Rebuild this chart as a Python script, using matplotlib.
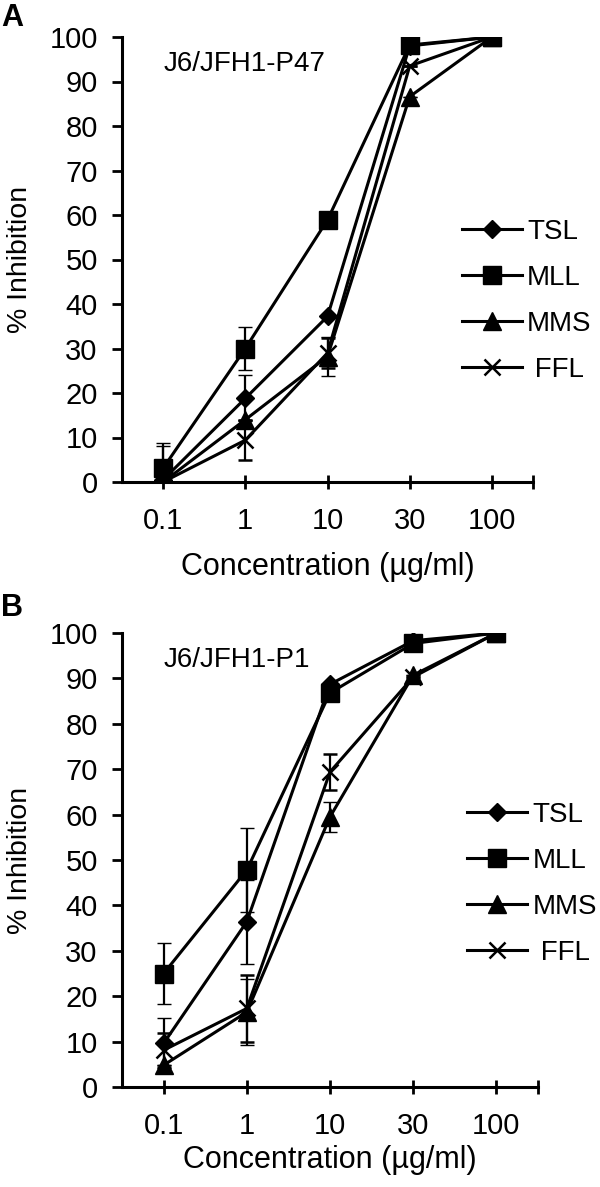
import matplotlib
matplotlib.use("Agg")
import matplotlib.pyplot as plt
from matplotlib.lines import Line2D
import numpy as np

plt.rcParams['font.family'] = ['Liberation Sans', 'DejaVu Sans']

conc_labels = ['0.1', '1', '10', '30', '100']
series_names = ['TSL', 'MLL', 'MMS', 'FFL']

# panel A: J6/JFH1-P47
a_tsl = [0.5, 18.8, 37.2, 98.0, 100]
a_mll = [3.1, 30.0, 58.9, 98.2, 100]
a_mms = [0.0, 14.0, 28.2, 86.6, 100]
a_ffl = [0.0, 9.4, 29.0, 93.5, 100]
a_tsl_err = [7.5, 5.2, 0, 0, 0]
a_mll_err = [5.6, 4.9, 0, 0, 0]
a_mms_err = [0, 0, 4.3, 0, 0]
a_ffl_err = [0, 4.5, 3.3, 0, 0]

# panel B: J6/JFH1-P1
b_tsl = [9.6, 36.4, 88.7, 98.3, 100]
b_mll = [25.0, 47.8, 86.8, 97.7, 100]
b_mms = [4.8, 16.5, 59.5, 90.7, 100]
b_ffl = [8.1, 17.3, 69.4, 90.3, 100]
b_tsl_err = [5.5, 9.2, 0, 0, 0]
b_mll_err = [6.8, 9.2, 0, 0, 0]
b_mms_err = [0, 7.3, 3.3, 0, 0]
b_ffl_err = [3.8, 7.4, 3.9, 0, 0]

W, H = 600, 1187
fig = plt.figure(figsize=(W / 100, H / 100), dpi=100)

styles = {
    'TSL': dict(marker='D', ms=9.5, mew=1),
    'MLL': dict(marker='s', ms=13, mew=1),
    'MMS': dict(marker='^', ms=13.5, mew=1),
    'FFL': dict(marker='x', ms=12, mew=1.8),
}
LW = 2.2


def panel(box, vals, errs, tag, letter, letter_y, leg_anchor, xlab_y):
    l, t, r, b = box
    ax = fig.add_axes([l / W, 1 - b / H, (r - l) / W, (b - t) / H])
    x = np.arange(len(conc_labels))
    handles = []
    for name, v, e in zip(series_names, vals, errs):
        st = styles[name]
        ax.errorbar(x, v, yerr=e, color='black', lw=LW, elinewidth=1.6,
                    capsize=5, capthick=1.6, mfc='black', mec='black', **st)
        handles.append(Line2D([], [], color='black', lw=LW, mfc='black',
                              mec='black', **st))
    ax.set_xlim(-0.5, 4.5)
    ax.set_ylim(0, 100)
    ax.set_yticks(np.arange(0, 101, 10))
    ax.set_xticks(x)
    ax.set_xticklabels(conc_labels)
    ax.set_xticks([4.5], minor=True)
    for s in ['top', 'right']:
        ax.spines[s].set_visible(False)
    for s in ['left', 'bottom']:
        ax.spines[s].set_linewidth(2.2)
    ax.tick_params(axis='y', direction='out', length=7.5, width=2,
                   labelsize=21, pad=10)
    ax.tick_params(axis='x', which='both', direction='inout', length=10,
                   width=2, labelsize=21, pad=13)
    ax.text(0.1, 0.94, tag, transform=ax.transAxes, fontsize=20,
            va='center', ha='left')
    labels = [' FFL' if n == 'FFL' else n for n in series_names]
    ax.legend(handles, labels, loc='center left', bbox_to_anchor=leg_anchor,
              frameon=False, fontsize=20, handlelength=2.15,
              handletextpad=0.2, labelspacing=0.72, borderpad=0,
              borderaxespad=0, numpoints=1)
    fig.text(20 / W, 1 - ((t + b) / 2) / H, '% Inhibition', rotation=90,
             fontsize=20.5, ha='center', va='center')
    fig.text(((l + r) / 2) / W, 1 - xlab_y / H, 'Concentration (µg/ml)',
             fontsize=22, ha='center', va='center')
    fig.text(1 / W, 1 - letter_y / H, letter, fontsize=22, weight='bold',
             ha='left', va='center')
    return ax


panel((122, 37, 533, 482),
      [a_tsl, a_mll, a_mms, a_ffl],
      [a_tsl_err, a_mll_err, a_mms_err, a_ffl_err],
      'J6/JFH1-P47', 'A', 18, (0.827, 0.407), 567)
panel((122, 633, 538, 1087),
      [b_tsl, b_mll, b_mms, b_ffl],
      [b_tsl_err, b_mll_err, b_mms_err, b_ffl_err],
      'J6/JFH1-P1', 'B', 608, (0.830, 0.447), 1160)

fig.savefig('out.png', dpi=100)
